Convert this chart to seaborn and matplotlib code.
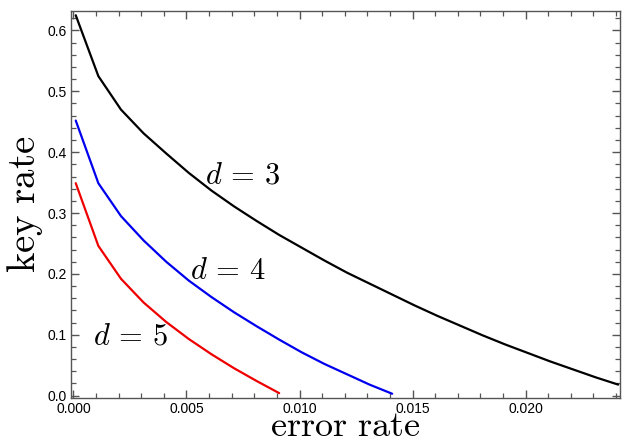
import numpy as np
import pandas as pd
import matplotlib
matplotlib.use("Agg")
import matplotlib.pyplot as plt
import seaborn as sns
from matplotlib.ticker import MultipleLocator

# ---- data ----
err_d3 = [0.0001, 0.0011, 0.0021, 0.0031, 0.0041, 0.0051, 0.0061, 0.0071, 0.0081, 0.0091,
          0.0101, 0.0111, 0.0121, 0.0131, 0.0141, 0.0151, 0.0161, 0.0171, 0.0181, 0.0191,
          0.0201, 0.0211, 0.0221, 0.0231, 0.0241]
key_d3 = [0.625, 0.525, 0.470, 0.431, 0.398, 0.366, 0.337, 0.311, 0.287, 0.264,
          0.243, 0.222, 0.202, 0.184, 0.166, 0.148, 0.131, 0.115, 0.099, 0.084,
          0.070, 0.056, 0.043, 0.030, 0.018]
err_d4 = [0.0001, 0.0011, 0.0021, 0.0031, 0.0041, 0.0051, 0.0061, 0.0071, 0.0081, 0.0091,
          0.0101, 0.0111, 0.0121, 0.0131, 0.0141]
key_d4 = [0.452, 0.349, 0.295, 0.255, 0.220, 0.189, 0.162, 0.137, 0.114, 0.092,
          0.071, 0.052, 0.035, 0.018, 0.003]
err_d5 = [0.0001, 0.0011, 0.0021, 0.0031, 0.0041, 0.0051, 0.0061, 0.0071, 0.0081, 0.0091]
key_d5 = [0.349, 0.246, 0.192, 0.153, 0.121, 0.093, 0.068, 0.045, 0.024, 0.004]

labels = [r"$d\,=\,3$", r"$d\,=\,4$", r"$d\,=\,5$"]
label_pos_x = [0.00748, 0.00681, 0.00252]
label_pos_y = [0.362, 0.204, 0.097]
colors = ["black", "#0000ee", "#ee0000"]

df = pd.concat([
    pd.DataFrame({"error rate": err_d3, "key rate": key_d3, "d": "3"}),
    pd.DataFrame({"error rate": err_d4, "key rate": key_d4, "d": "4"}),
    pd.DataFrame({"error rate": err_d5, "key rate": key_d5, "d": "5"}),
], ignore_index=True)

sns.set_style("ticks")
plt.rcParams["font.family"] = ["Liberation Sans", "DejaVu Sans"]
plt.rcParams["mathtext.fontset"] = "cm"

fig = plt.figure(figsize=(6.24, 4.45), dpi=100)
ax = fig.add_axes([71 / 624, 47 / 445, 549 / 624, 387 / 445])

sns.lineplot(data=df, x="error rate", y="key rate", hue="d",
             palette=dict(zip(["3", "4", "5"], colors)),
             linewidth=1.6, legend=False, ax=ax, estimator=None, sort=False)

for lab, xx, yy in zip(labels, label_pos_x, label_pos_y):
    ax.text(xx, yy, lab, fontsize=22, ha="center", va="center", color="black")

ax.set_xlim(-0.00011, 0.02418)
ax.set_ylim(-0.004, 0.632)
ax.xaxis.set_major_locator(MultipleLocator(0.005))
ax.xaxis.set_minor_locator(MultipleLocator(0.001))
ax.yaxis.set_major_locator(MultipleLocator(0.1))
ax.yaxis.set_minor_locator(MultipleLocator(0.02))
ax.xaxis.set_major_formatter(matplotlib.ticker.FormatStrFormatter("%.3f"))
ax.yaxis.set_major_formatter(matplotlib.ticker.FormatStrFormatter("%.1f"))

ax.tick_params(which="both", direction="in", top=True, right=True,
               color="#555555", labelcolor="black", labelsize=10, pad=3)
ax.tick_params(which="major", length=6, width=1)
ax.tick_params(which="minor", length=3.5, width=0.9)
for sp in ax.spines.values():
    sp.set_color("#555555")
    sp.set_linewidth(1.0)

ax.set_xlabel(r"$\mathrm{error\ rate}$", fontsize=26, labelpad=-5, color="black")
ax.set_ylabel(r"$\mathrm{key\ rate}$", fontsize=28, labelpad=1.5, color="black")

fig.savefig("out.png", dpi=100)
